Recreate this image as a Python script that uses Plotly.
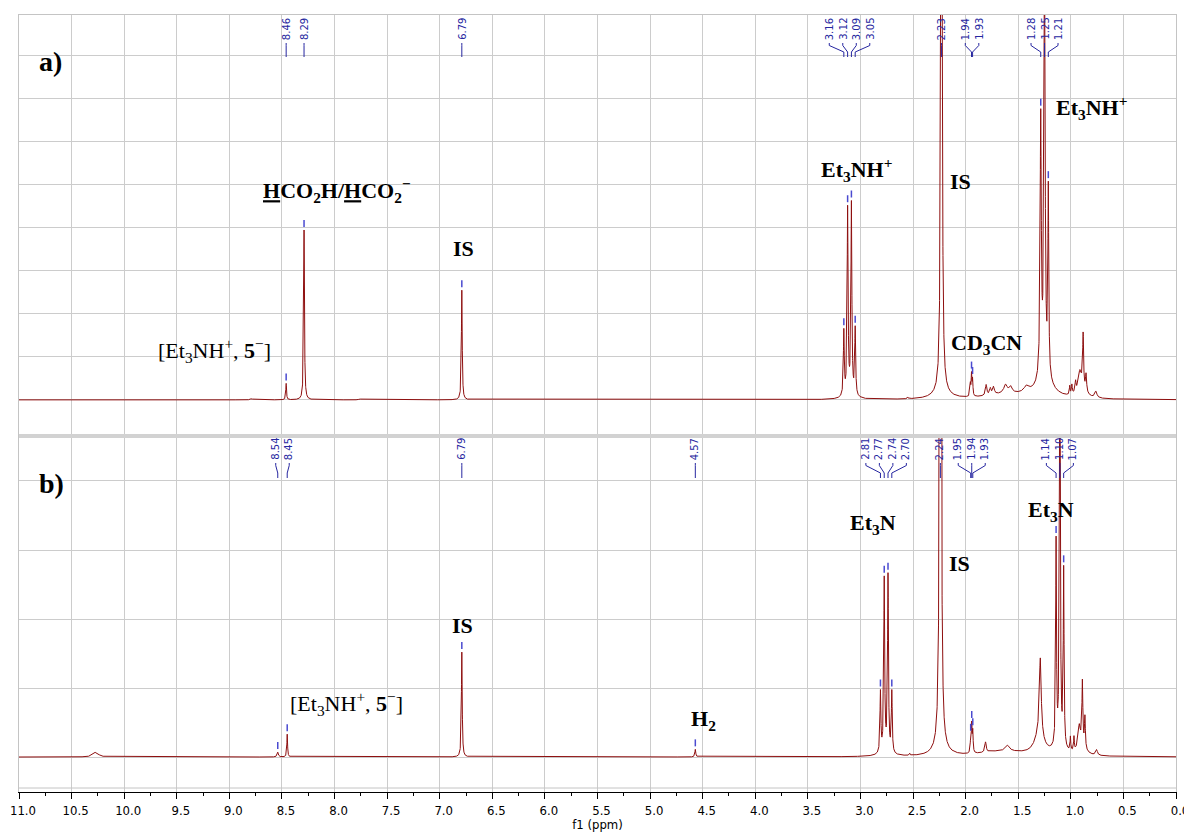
import numpy as np
import plotly.graph_objects as go

# ---------------- data ----------------
# Peaks: chemical shift (ppm), height (grid units), half width (ppm)
shift_a = [8.79, 8.460, 8.290, 7.76, 6.790,
           3.158, 3.122, 3.086, 3.050, 3.10,
           2.552, 2.230, 2.23,
           1.955, 1.944, 1.934, 1.805, 1.765, 1.735, 1.62, 1.57, 1.60, 1.42,
           1.286, 1.250, 1.214, 1.25,
           1.010, 0.990, 0.955, 0.915, 0.883, 0.855, 0.90, 0.762]
height_a = [0.03, 0.38, 3.95, 0.02, 2.55,
            1.50, 4.30, 4.40, 1.55, 0.12,
            0.04, 30.0, 0.15,
            0.28, 0.50, 0.38, 0.25, 0.15, 0.18, 0.20, 0.14, 0.12, 0.15,
            6.0, 10.0, 4.3, 0.45,
            0.20, 0.22, 0.25, 0.35, 1.20, 0.40, 0.30, 0.15]
hwhm_a = [0.01, 0.004, 0.0045, 0.01, 0.0045,
          0.005, 0.005, 0.005, 0.005, 0.05,
          0.004, 0.005, 0.08,
          0.004, 0.004, 0.004, 0.008, 0.008, 0.01, 0.02, 0.015, 0.25, 0.03,
          0.0065, 0.0065, 0.005, 0.08,
          0.004, 0.005, 0.006, 0.015, 0.005, 0.006, 0.04, 0.012]

shift_b = [10.27, 8.540, 8.450, 6.790, 4.570,
           2.810, 2.774, 2.738, 2.702, 2.76,
           2.532, 2.240, 2.24,
           1.952, 1.942, 1.932, 1.811, 1.60, 1.65,
           1.290, 1.30,
           1.140, 1.104, 1.068, 1.11,
           1.004, 0.970, 0.920, 0.890, 0.866, 0.90, 0.755]
height_b = [0.07, 0.07, 0.33, 1.52, 0.11,
            0.88, 2.50, 2.55, 0.88, 0.05,
            0.03, 25.0, 0.10,
            0.22, 0.40, 0.30, 0.15, 0.08, 0.08,
            1.10, 0.30,
            2.95, 7.0, 2.55, 0.10,
            0.20, 0.20, 0.30, 0.90, 0.45, 0.15, 0.08]
hwhm_b = [0.03, 0.007, 0.004, 0.0045, 0.005,
          0.005, 0.005, 0.005, 0.005, 0.06,
          0.004, 0.005, 0.07,
          0.004, 0.004, 0.004, 0.008, 0.02, 0.25,
          0.01, 0.05,
          0.0045, 0.0045, 0.0045, 0.06,
          0.004, 0.004, 0.012, 0.005, 0.005, 0.04, 0.01]

# Peak-picking labels (groups) and the peak each one points at
labels_a = [["8.46"], ["8.29"], ["6.79"], ["3.16", "3.12", "3.09", "3.05"],
            ["2.23"], ["1.94", "1.93"], ["1.28", "1.25", "1.21"]]
picks_a = [[8.460], [8.290], [6.790], [3.158, 3.122, 3.086, 3.050],
           [2.230], [1.944, 1.934], [1.286, 1.250, 1.214]]
labels_b = [["8.54", "8.45"], ["6.79"], ["4.57"], ["2.81", "2.77", "2.74", "2.70"],
            ["2.24"], ["1.95", "1.94", "1.93"], ["1.14", "1.10", "1.07"]]
picks_b = [[8.540, 8.450], [6.790], [4.570], [2.810, 2.774, 2.738, 2.702],
           [2.240], [1.952, 1.942, 1.932], [1.140, 1.104, 1.068]]

tick_vals = [11.0, 10.5, 10.0, 9.5, 9.0, 8.5, 8.0, 7.5, 7.0, 6.5, 6.0, 5.5,
             5.0, 4.5, 4.0, 3.5, 3.0, 2.5, 2.0, 1.5, 1.0, 0.5, 0.0]
tick_text = ["%.1f" % v for v in tick_vals]

# assignments: (text, ppm, height, font size)
notes_a = [
    ("<b>a)</b>", 10.70, 7.86, 28),
    ("<b><u>H</u>CO<sub>2</sub>H/<u>H</u>CO<sub>2</sub><sup>−</sup></b>", 7.98, 4.88, 22),
    ("<b>IS</b>", 6.77, 3.53, 22),
    ("[Et<sub>3</sub>NH<sup>+</sup>, <b>5</b><sup>−</sup>]", 9.14, 1.14, 22),
    ("<b>Et<sub>3</sub>NH<sup>+</sup></b>", 3.04, 5.35, 22),
    ("<b>IS</b>", 2.05, 5.07, 22),
    ("<b>CD<sub>3</sub>CN</b>", 1.80, 1.30, 22),
    ("<b>Et<sub>3</sub>NH<sup>+</sup></b>", 0.80, 6.81, 22),
]
notes_b = [
    ("<b>b)</b>", 10.69, 3.97, 28),
    ("<b>IS</b>", 6.78, 1.91, 22),
    ("[Et<sub>3</sub>NH<sup>+</sup>, <b>5</b><sup>−</sup>]", 7.89, 0.78, 22),
    ("<b>H<sub>2</sub></b>", 4.49, 0.54, 22),
    ("<b>Et<sub>3</sub>N</b>", 2.88, 3.38, 22),
    ("<b>IS</b>", 2.06, 2.81, 22),
    ("<b>Et<sub>3</sub>N</b>", 1.19, 3.57, 22),
]

# ---------------- build spectra ----------------
ppm = np.round(np.arange(0.0, 11.0 + 1e-9, 0.0005), 4)


def spectrum(shifts, heights, widths):
    y = np.zeros_like(ppm)
    for s, h, w in zip(shifts, heights, widths):
        y += h * w * w / ((ppm - s) ** 2 + w * w)
    return np.round(y, 4)


spec_a = spectrum(shift_a, height_a, hwhm_a)
spec_b = spectrum(shift_b, height_b, hwhm_b)

# ---------------- layout geometry ----------------
OFF = 8                      # page body margin around the figure
W, H = 1192 - OFF, 832 - OFF
ML, MR, MT, MB = 19 - OFF, 16, 15 - OFF, 40
PH = H - MT - MB
PW = W - ML - MR


def Y(py):
    """screen pixel row -> paper fraction"""
    return 1 - (py - OFF - MT) / PH


split = Y(436)
RED = "#8e0f0f"
BLUE = "#2626a0"
GRID = "#cccccc"
FRAME = "#c4c4c4"
SERIF = "Liberation Serif, Times New Roman, serif"
NARROW = "DejaVu Sans Condensed, Liberation Sans Narrow, sans-serif"

fig = go.Figure()
fig.add_trace(go.Scatter(x=ppm, y=spec_a, mode="lines", line=dict(color=RED, width=1),
                         xaxis="x", yaxis="y", hoverinfo="skip", showlegend=False))
fig.add_trace(go.Scatter(x=ppm, y=spec_b, mode="lines", line=dict(color=RED, width=1),
                         xaxis="x2", yaxis="y2", hoverinfo="skip", showlegend=False))

shapes = []
annotations = []
ppm_per_px = 11.0 / PW
spacing = 13.5 * ppm_per_px


def add_picks(labels, picks, spec, xref, yref, label_py, top_py, knee_py, bend_py, end_py):
    for labs, pks in zip(labels, picks):
        n = len(labs)
        centre = float(np.mean(pks))
        for i, (lab, pk) in enumerate(zip(labs, pks)):
            lx = pk if n == 1 else centre + ((n - 1) / 2 - i) * spacing
            annotations.append(dict(
                x=lx, y=Y(label_py), xref=xref, yref="paper", text=lab,
                textangle=-90, showarrow=False, xanchor="center", yanchor="middle",
                font=dict(family="DejaVu Sans, Verdana, sans-serif", size=10, color=BLUE)))
            path = (f"M {lx},{Y(top_py)} L {lx},{Y(knee_py)} "
                    f"L {pk},{Y(bend_py)} L {pk},{Y(end_py)}")
            shapes.append(dict(type="path", path=path, xref=xref, yref="paper",
                               line=dict(color=BLUE, width=1)))
            val = float(np.interp(pk, ppm, spec))
            shapes.append(dict(type="line", xref=xref, yref=yref, xsizemode="scaled",
                               ysizemode="pixel", yanchor=val, x0=pk, x1=pk, y0=3, y1=10,
                               line=dict(color="#4a4ad0", width=1.5)))


add_picks(labels_a, picks_a, spec_a, "x", "y", 29, 43, 45.5, 52, 57)
add_picks(labels_b, picks_b, spec_b, "x2", "y2", 449, 463, 465.5, 473, 478)

for txt, xx, yy, sz in notes_a:
    annotations.append(dict(x=xx, y=yy, xref="x", yref="y", text=txt, showarrow=False,
                            xanchor="center", yanchor="middle",
                            font=dict(family=SERIF, size=sz, color="black")))
for txt, xx, yy, sz in notes_b:
    annotations.append(dict(x=xx, y=yy, xref="x2", yref="y2", text=txt, showarrow=False,
                            xanchor="center", yanchor="middle",
                            font=dict(family=SERIF, size=sz, color="black")))

# panel separators / frame pieces
shapes.append(dict(type="line", xref="paper", yref="paper", x0=0, x1=1, y0=split, y1=split,
                   line=dict(color="#d2d2d2", width=4)))
shapes.append(dict(type="line", xref="paper", yref="paper", x0=0, x1=1, y0=Y(788), y1=Y(788),
                   line=dict(color=FRAME, width=1)))

common_x = dict(range=[11.0, 0.0], tickvals=tick_vals, showgrid=True, gridcolor=GRID,
                gridwidth=1, zeroline=False, automargin=False)
common_y = dict(dtick=1, tick0=0, showgrid=True, gridcolor=GRID, gridwidth=1, zeroline=False,
                showticklabels=False, ticks="", showline=True, mirror=True, linecolor=FRAME,
                automargin=False)

fig.update_layout(
    width=W, height=H, margin=dict(l=ML, r=MR, t=MT, b=MB, autoexpand=False),
    paper_bgcolor="white", plot_bgcolor="white", showlegend=False,
    xaxis=dict(**common_x, anchor="y", domain=[0, 1], showticklabels=False, ticks="",
               showline=True, mirror=True, linecolor=FRAME),
    yaxis=dict(**common_y, domain=[split, 1], range=[-0.84, 8.95]),
    xaxis2=dict(**common_x, anchor="y2", domain=[0, 1], ticktext=tick_text,
                ticks="outside", ticklen=6, tickcolor="black", tickwidth=1,
                showline=True, linecolor="black", linewidth=1,
                ticklabeloverflow="allow", ticklabelshift=-4,
                minor=dict(dtick=0.25, tick0=0, ticks="outside", ticklen=3,
                           tickcolor="black", showgrid=False),
                tickfont=dict(family=NARROW, size=13, color="black"),
                title=dict(text="f1 (ppm)", standoff=1,
                           font=dict(family=NARROW, size=13, color="black"))),
    yaxis2=dict(**common_y, domain=[0, split], range=[-0.507, 4.652]),
    shapes=shapes, annotations=annotations,
)

fig.write_html("out.html")
